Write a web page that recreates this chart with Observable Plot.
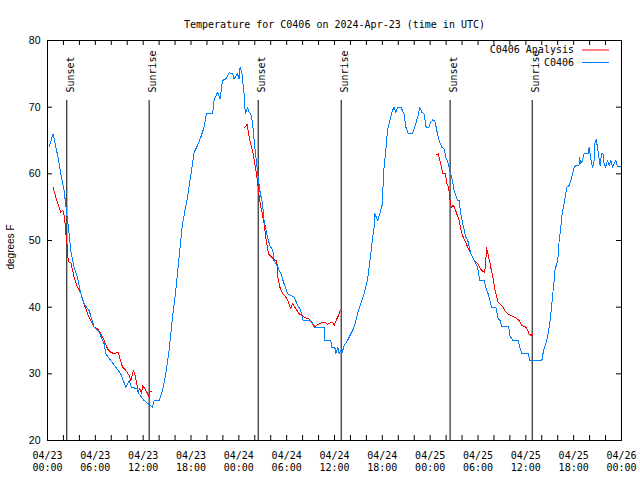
<!DOCTYPE html>
<html><head><meta charset="utf-8">
<script src="https://cdn.jsdelivr.net/npm/d3@7"></script>
<script src="https://cdn.jsdelivr.net/npm/@observablehq/plot@0.6"></script>
<style>body{margin:0;background:#fff} svg{display:block}</style>
</head><body><div id="chart"></div>
<script>
const titleText = "Temperature for C0406 on 2024-Apr-23 (time in UTC)";
const yLabelText = "degrees F";
const startUTC = "2024-04-23T00:00:00Z";
const endUTC = "2024-04-26T00:00:00Z";
const yTicks = [20, 30, 40, 50, 60, 70, 80];

// C0406 observations: hours since 04/23 00:00 UTC, degrees F
const obsHours = [0.20,0.70,1.04,1.33,1.67,2.08,2.42,2.71,2.92,3.34,3.76,4.18,4.59,5.22,5.85,6.47,7.10,7.31,7.94,8.57,9.19,9.82,10.24,10.54,11.29,11.49,12.12,13.17,13.37,14.00,14.43,14.84,15.25,15.68,16.09,16.51,16.93,17.56,18.19,18.39,18.82,19.23,19.64,19.94,20.70,20.90,21.32,21.65,21.95,22.37,22.78,23.21,23.41,23.83,24.03,24.16,24.37,24.66,24.81,25.09,25.29,25.50,25.72,25.92,26.09,26.38,26.63,26.97,27.17,27.60,27.89,28.27,28.43,28.89,29.27,29.68,30.14,30.93,31.40,31.77,32.06,33.03,33.32,33.44,34.70,34.72,35.54,35.66,36.04,36.16,36.41,36.58,36.79,36.92,37.21,37.63,38.05,38.46,38.89,39.30,39.71,40.14,40.34,40.55,40.80,40.97,41.05,41.43,41.68,42.02,42.10,42.22,42.44,42.65,42.94,43.28,43.48,43.69,43.94,44.32,44.73,44.95,45.28,45.79,46.20,46.54,46.70,46.95,47.24,47.49,47.83,48.08,48.33,48.58,48.92,49.12,49.46,49.75,49.96,50.30,50.50,50.80,51.00,51.43,51.63,51.84,52.09,52.47,52.72,53.10,53.51,53.94,54.23,54.77,54.98,55.27,55.48,55.73,56.23,56.52,56.77,56.99,57.86,57.99,58.37,59.03,59.25,59.50,60.29,60.50,62.01,62.22,62.50,62.71,63.00,63.22,63.38,63.55,63.64,64.01,64.18,64.39,64.55,64.80,64.93,65.14,65.43,65.64,65.86,66.06,66.27,66.68,66.73,66.89,67.11,67.31,67.86,67.94,68.06,68.24,68.40,68.57,68.65,68.82,68.99,69.16,69.32,69.49,69.69,69.82,70.03,70.24,70.45,70.66,70.87,71.07,71.28,71.49,71.82];
const obsTemps = [64,66,64,62.5,60,57.5,54,51,48.5,46,44.5,42,40.5,39.5,37,36.3,34.5,33,32,31,30,28,29,28,27.75,27,26,25,26,26,27.5,30,33.5,38.5,42.5,47.5,52.5,56.5,61.5,63.25,64.25,65.5,67,69,69,71,72.25,71.25,74,74.25,75.15,75,74.25,75,74.25,76,75.25,72,69,70,69.25,69,67.75,65,63,60,57.5,55.5,53,50.5,49.25,48.5,47,46,45,43.5,42,41.5,40.25,39.5,38,38,37.5,37,37,35,35,34,34,33,34,33,33.5,33,34.25,35,36,37,39,40.5,42,44,46,48,50.5,52,54,53,54,55.5,58.5,61,63.5,66.5,68,69.5,70,69.25,70,70,69,67,66,66,67.5,69,70,69.25,69,67,67,67.75,68.1,68,66,65,64,63.75,62.5,61.5,60.25,59,57.5,56,56,54,52.5,50.5,50,48,47,46,44,44,43,42,41,40,40,38.25,38,37.1,37.1,35.75,35,35,34,33,33,32,32,33.5,34.5,35.5,37.5,40,42,44,45.5,47,50,52,54,55.5,56.5,58,58.25,59,60,61,61.25,61.3,62.5,61.5,62,63,63,64,63,61.5,61,62,64.5,65.1,64,62.5,61.25,63,63,61.5,61,62,61.25,62,61,61.5,62,61.1,61.1];

// C0406 Analysis, three overnight runs
const ana1Hours = [0.70,1.04,1.46,1.67,1.92,2.08,2.21,2.30,2.42,2.51,2.58,2.71,2.92,3.05,3.34,3.76,4.18,4.59,5.02,5.43,5.85,6.27,6.69,7.10,7.53,7.94,8.35,8.86,9.03,9.41,9.82,10.24,10.45,10.79,10.99,11.20,11.36,11.58,11.79,11.95,12.21,12.54,12.71,12.83,13.00];
const ana1Temps = [58,56.5,55,54.25,54.5,53.75,52.5,51,50,48.5,47.25,46.75,46.75,46,44.5,43,42,40.5,39,38,37,36.75,36,35,33.75,33.25,33,33.25,32.5,31,30.5,29.75,29,30.5,29.75,28.5,27.25,27.75,27,28.25,27.75,27.1,26.6,27.25,27.35];
const ana2Hours = [24.75,25.04,25.25,25.50,25.79,26.00,26.22,26.38,26.51,26.76,26.88,27.17,27.38,27.72,28.13,28.42,28.76,28.89,29.14,29.52,29.77,30.14,30.52,30.73,31.15,31.56,31.90,32.28,32.81,33.24,33.57,33.87,34.28,34.78,35.12,35.41,35.79,35.95,36.20,36.50,36.70,36.83];
const ana2Temps = [67,67.4,65.75,64.5,63,61.5,60,58.5,57,55,54.5,52.5,50.5,48,47.5,47,47,44.5,43,42,41.75,41,39.75,40.5,39.75,39,38.75,38.4,38.25,37.5,37.1,37.4,37.6,37.75,37.4,37.6,37.75,37.25,38,38.75,39.5,39.6];
const ana3Hours = [48.80,49.00,49.21,49.37,49.59,49.92,50.09,50.30,50.50,50.63,50.84,51.05,51.34,51.63,51.97,52.44,52.81,53.10,53.51,53.98,54.44,54.85,54.98,55.07,55.19,55.44,55.64,55.86,56.11,56.36,56.52,56.82,57.15,57.36,57.70,58.11,58.58,59.16,59.50,59.79,60.00,60.25,60.41,60.64,60.84];
const ana3Temps = [62.9,63,62,61.25,60,60,58.5,58,56,55,55.25,55,54,53,51,49.75,48.75,48,47,46.5,45.5,45.25,47,49,48.25,47,45.75,44.5,42.75,41.5,40.75,40.4,40,39.5,39,38.75,38.5,38,37.25,37.1,37,36.5,36,35.75,36];

const sunHours = [2.42, 12.75, 26.43, 36.84, 50.50, 60.80];
const sunLabels = ["Sunset", "Sunrise", "Sunset", "Sunrise", "Sunset", "Sunrise"];
const legendNames = ["C0406 Analysis", "C0406"];
const legendColors = ["#ff0000", "#0080ff"];

const t0 = new Date(startUTC), t1 = new Date(endUTC);
const toDate = h => new Date(t0.getTime() + h * 3600e3);
const obs = obsHours.map((h, i) => ({time: toDate(h), temp: obsTemps[i]}));
const ana = [[ana1Hours, ana1Temps], [ana2Hours, ana2Temps], [ana3Hours, ana3Temps]]
  .flatMap(([hs, ts], k) => hs.map((h, i) => ({time: toDate(h), temp: ts[i], run: k})));
const sun = sunHours.map((h, i) => ({time: toDate(h), label: sunLabels[i]}));
const xMinor = d3.utcHour.every(2).range(t0, new Date(t1.getTime() + 1));

const mono = "DejaVu Sans Mono";
const sans = "Liberation Sans";
const chart = Plot.plot({
  width: 640, height: 480,
  marginLeft: 47, marginRight: 19, marginTop: 40, marginBottom: 40,
  style: {fontFamily: mono, fontSize: "10px", background: "white", color: "black"},
  x: {type: "utc", domain: [t0, t1]},
  y: {domain: [20, 80]},
  marks: [
    Plot.frame({stroke: "black"}),
    Plot.axisX({ticks: d3.utcHour.every(6), tickFormat: d3.utcFormat("%m/%d\n%H:%M"), tickSize: 0, tickPadding: 10, label: null, lineHeight: 1.2, fontSize: 10}),
    Plot.axisY({ticks: yTicks, tickSize: 0, tickPadding: 7, label: null, fontFamily: sans, fontSize: 10.5}),
    Plot.tickX(xMinor, {x: d => d, insetTop: 395, stroke: "black"}),
    Plot.tickX(xMinor, {x: d => d, insetBottom: 395, stroke: "black"}),
    Plot.tickY(yTicks, {y: d => d, insetRight: 569, stroke: "black"}),
    Plot.tickY(yTicks, {y: d => d, insetLeft: 569, stroke: "black"}),
    Plot.ruleX(sun, {x: "time", insetTop: 60, stroke: "black", strokeWidth: 1}),
    Plot.text(sun, {x: "time", text: "label", frameAnchor: "top", dy: 52, rotate: -90, textAnchor: "start", fontSize: 10}),
    Plot.line(ana, {x: "time", y: "temp", z: "run", stroke: legendColors[0], strokeWidth: 1, shapeRendering: "crispEdges"}),
    Plot.line(obs, {x: "time", y: "temp", stroke: legendColors[1], strokeWidth: 1, shapeRendering: "crispEdges"}),
    Plot.text([titleText], {frameAnchor: "top", dy: -20, fontSize: 10})
  ]
});
document.getElementById("chart").appendChild(chart);

const svg = d3.select(chart);
svg.append("text").attr("transform", "translate(11,247) rotate(-90)").attr("dy", "0.32em")
  .attr("text-anchor", "middle").attr("font-family", sans).attr("font-size", 10)
  .attr("fill", "black").text(yLabelText);
legendNames.forEach((name, i) => {
  const y = 50 + i * 12.5;
  svg.append("text").attr("x", 574).attr("y", y).attr("dy", "0.32em")
    .attr("text-anchor", "end").attr("font-family", mono).attr("font-size", 10)
    .attr("fill", "black").text(name);
  svg.append("line").attr("x1", 582).attr("x2", 609).attr("y1", y).attr("y2", y)
    .attr("stroke", legendColors[i]).attr("stroke-width", 1);
});
</script></body></html>
